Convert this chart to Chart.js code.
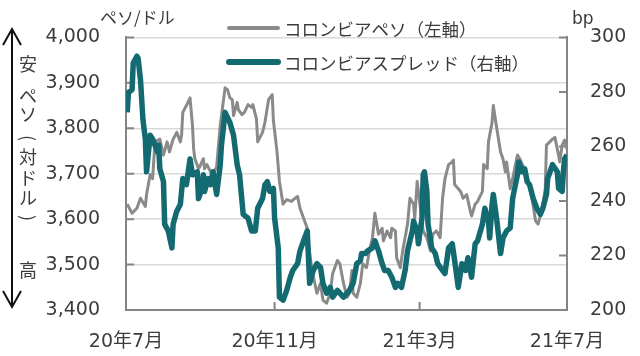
<!DOCTYPE html>
<html><head><meta charset="utf-8">
<script src="https://cdn.jsdelivr.net/npm/chart.js@4.4.1/dist/chart.umd.min.js"></script>
<style>html,body{margin:0;padding:0;background:#fff}#wrap{width:640px;height:356px;position:relative}</style>
</head><body><div id="wrap"><canvas id="c" width="640" height="356"></canvas></div>
<script>
// ---- data ----
const seriesNames = ['コロンビアペソ（左軸）', 'コロンビアスプレッド（右軸）'];
const leftTitle = 'ペソ/ドル';
const rightTitle = 'bp';
const sideLabel = ['安', 'ペ', 'ソ', '(', '対', 'ド', 'ル', ')', '高'];
// x values: days since 2020-07-01
const tickDays = [0, 123, 243, 365];
const tickLabels = ['20年7月', '20年11月', '21年3月', '21年7月'];

const pesoDay = [1,5,9,12,16,17,20,22,24,28,31,34,36,39,42,45,46,47,50,53,55,56,57,60,61,64,65,67,70,72,75,78,82,84,86,88,89,92,93,96,98,101,104,105,108,109,113,115,118,121,122,125,127,130,133,137,140,142,144,147,150,151,154,158,161,163,166,169,171,175,177,180,183,185,187,188,191,194,196,199,202,204,206,209,212,213,216,219,220,223,224,227,229,233,235,238,239,241,243,246,249,252,254,257,260,262,264,267,270,271,272,275,277,279,282,285,286,289,291,295,296,299,300,303,304,307,310,312,314,315,318,320,324,326,328,330,333,336,339,341,344,347,348,353,355,357,358,359,361,363,365];
const pesoValue = [3633,3613,3624,3646,3628,3654,3698,3689,3770,3776,3741,3770,3748,3776,3791,3770,3785,3835,3850,3867,3807,3754,3733,3711,3715,3733,3711,3720,3704,3698,3715,3807,3889,3885,3867,3863,3828,3857,3841,3830,3835,3852,3846,3852,3820,3770,3791,3813,3863,3874,3817,3748,3683,3633,3643,3639,3646,3650,3624,3602,3580,3546,3487,3437,3459,3422,3415,3437,3480,3509,3502,3459,3428,3437,3487,3437,3428,3459,3502,3493,3537,3559,3613,3567,3580,3552,3574,3559,3580,3574,3515,3493,3530,3589,3646,3633,3602,3683,3639,3574,3559,3530,3567,3574,3559,3646,3689,3720,3726,3730,3676,3667,3661,3646,3654,3617,3607,3633,3639,3661,3720,3711,3770,3813,3850,3798,3748,3733,3704,3726,3667,3689,3741,3733,3720,3711,3683,3646,3596,3589,3617,3667,3763,3776,3780,3754,3741,3726,3763,3774,3754];

const spreadDay = [1,2,5,6,9,10,12,13,14,16,17,20,22,26,27,28,31,32,35,38,39,42,45,47,50,53,55,59,60,63,64,65,68,70,72,75,78,79,82,86,89,92,94,97,101,104,107,109,113,115,117,119,122,123,126,127,130,133,136,138,142,144,147,150,152,155,158,161,163,166,169,171,175,177,180,183,185,188,191,194,195,198,200,204,206,209,212,214,217,220,223,225,228,231,233,237,238,241,242,245,246,247,249,250,253,256,258,262,264,267,270,272,275,278,281,283,286,289,291,295,297,300,301,303,304,307,310,312,315,318,320,324,325,328,330,332,334,337,340,343,345,348,349,353,357,358,361,362,363,365];
const spreadValue = [272.5,279.7,280.8,290.6,293.1,292.4,284.4,277.2,269.9,262.7,250.7,264.1,262.7,258,260.5,251.8,247.1,231.5,229,222.8,231.5,236.2,238.8,248.2,246,255.4,249.6,250.7,240.9,244.6,249.6,243.5,248.2,246,250.7,242.4,253.3,260.5,272.5,268.8,264.1,253.3,249.6,235.1,233.7,229,229,237.3,240.9,246,247.1,243.5,244.6,233.7,222.8,204.7,203.6,207.2,212,214.5,217,221.7,225.4,229,209.8,214.5,217,215.6,209.8,206.2,208.3,204.7,207.2,206.2,204.7,206.2,207.2,209.8,217,218.1,220.7,220.7,221.7,222.8,225.4,221.7,217,214.5,214.5,212,208.3,209.8,208.3,214.5,221.7,229,232.6,229,224.3,233.7,249.6,250.7,243.5,231.5,222.8,220.7,217,214.5,213.4,222.8,224.3,218.1,208.3,217,214.5,219.2,212,224.3,225.4,231.5,237.3,232.6,226.4,238.8,242.4,232.6,220.7,226.4,229,230.1,240.9,249.6,254.3,250.7,251.8,247.1,246,240.9,237.3,235.1,237.3,242.4,248.2,253.3,250.7,244.6,243.5,250.7,255.4,256.9];

// ---- styles ----
const GRAY = '#8a8a8a';
const TEAL = '#146a71';
const AXIS = '#858585';
const TXT = '#3c3c3c';
const NUMFONT = '"DejaVu Sans", "Noto Sans CJK JP", sans-serif';
const JPFONT = '"Noto Sans CJK JP", sans-serif';

const toPts = (xs, ys) => xs.map((d, i) => ({x: d, y: ys[i]}));

const decor = {
  id: 'decor',
  beforeDatasetsDraw(chart) {
    const {ctx, chartArea: a, scales: {x, y, y1}} = chart;
    ctx.save();
    ctx.strokeStyle = AXIS; ctx.lineWidth = 2;
    ctx.beginPath();
    y.ticks.forEach(t => { const p = y.getPixelForValue(t.value); ctx.moveTo(a.left, p); ctx.lineTo(a.left + 8, p); });
    y1.ticks.forEach(t => { const p = y1.getPixelForValue(t.value); ctx.moveTo(a.right, p); ctx.lineTo(a.right - 8, p); });
    x.ticks.forEach(t => { const p = x.getPixelForValue(t.value); ctx.moveTo(p, a.bottom); ctx.lineTo(p, a.bottom - 8); });
    ctx.stroke();
    ctx.restore();
  },
  afterDraw(chart) {
    const {ctx} = chart;
    ctx.save();
    // axis titles
    ctx.fillStyle = TXT;
    ctx.font = '17px ' + JPFONT;
    ctx.textAlign = 'left'; ctx.textBaseline = 'middle';
    ctx.fillText(leftTitle, 100, 18);
    ctx.font = '17px ' + NUMFONT;
    ctx.fillText(rightTitle, 572, 20);
    // legend
    const ds = chart.data.datasets;
    const rows = [28, 62];
    ds.forEach((d, i) => {
      ctx.strokeStyle = d.borderColor; ctx.lineWidth = i === 0 ? 4 : 6; ctx.lineCap = 'round';
      ctx.beginPath(); ctx.moveTo(229, rows[i]); ctx.lineTo(278, rows[i]); ctx.stroke();
      ctx.fillStyle = TXT; ctx.font = '17.5px ' + JPFONT;
      ctx.fillText(seriesNames[i], 284, rows[i] + 1);
    });
    // side arrow
    ctx.strokeStyle = '#111'; ctx.lineWidth = 2; ctx.lineCap = 'butt';
    ctx.beginPath();
    ctx.moveTo(12, 29); ctx.lineTo(12, 307);
    ctx.moveTo(3, 45); ctx.lineTo(12, 29); ctx.lineTo(21, 45);
    ctx.moveTo(3, 291); ctx.lineTo(12, 307); ctx.lineTo(21, 291);
    ctx.stroke();
    // side vertical text
    ctx.fillStyle = TXT; ctx.font = '18px ' + JPFONT; ctx.textAlign = 'center';
    const ys = [64, 96, 114, 138, 157, 178, 198, 218, 270];
    sideLabel.forEach((c, i) => {
      if (c === '(' || c === ')') {
        ctx.save();
        ctx.translate(28, ys[i]);
        ctx.rotate(Math.PI / 2);
        ctx.fillText(c, 0, 0);
        ctx.restore();
      } else {
        ctx.fillText(c, 28, ys[i]);
      }
    });
    ctx.restore();
  }
};

new Chart(document.getElementById('c'), {
  type: 'line',
  data: {
    datasets: [
      {label: seriesNames[0], data: toPts(pesoDay, pesoValue), yAxisID: 'y', borderColor: GRAY, borderWidth: 3, pointRadius: 0, tension: 0, order: 1, borderJoinStyle: 'round'},
      {label: seriesNames[1], data: toPts(spreadDay, spreadValue), yAxisID: 'y1', borderColor: TEAL, borderWidth: 5.5, pointRadius: 0, tension: 0, order: 0, borderJoinStyle: 'round'}
    ]
  },
  options: {
    responsive: false, animation: false, devicePixelRatio: 1,
    layout: {padding: {top: 35, left: 0, right: 0, bottom: 0}},
    plugins: {legend: {display: false}, tooltip: {enabled: false}},
    scales: {
      x: {
        type: 'linear', min: 0, max: 365,
        afterBuildTicks: s => { s.ticks = tickDays.map(v => ({value: v})); },
        afterFit: s => { s.height = 46; },
        ticks: {callback: v => tickLabels[tickDays.indexOf(v)], autoSkip: false, maxRotation: 0, padding: 21, color: TXT, font: {family: NUMFONT, size: 19}},
        grid: {display: false, drawTicks: false},
        border: {display: true, color: AXIS, width: 2}
      },
      y: {
        position: 'left', min: 3400, max: 4000,
        afterFit: s => { s.width = 126; },
        ticks: {stepSize: 100, padding: 26, color: TXT, font: {family: NUMFONT, size: 19}, callback: v => v.toLocaleString('en-US')},
        grid: {color: '#d9d9d9', lineWidth: 1.5, drawTicks: false},
        border: {display: true, color: AXIS, width: 2}
      },
      y1: {
        position: 'right', min: 200, max: 300,
        afterFit: s => { s.width = 73; },
        ticks: {stepSize: 20, padding: 23, color: TXT, font: {family: NUMFONT, size: 19}},
        grid: {display: false, drawTicks: false},
        border: {display: true, color: AXIS, width: 2}
      }
    }
  },
  plugins: [decor]
});
</script>
</body></html>
